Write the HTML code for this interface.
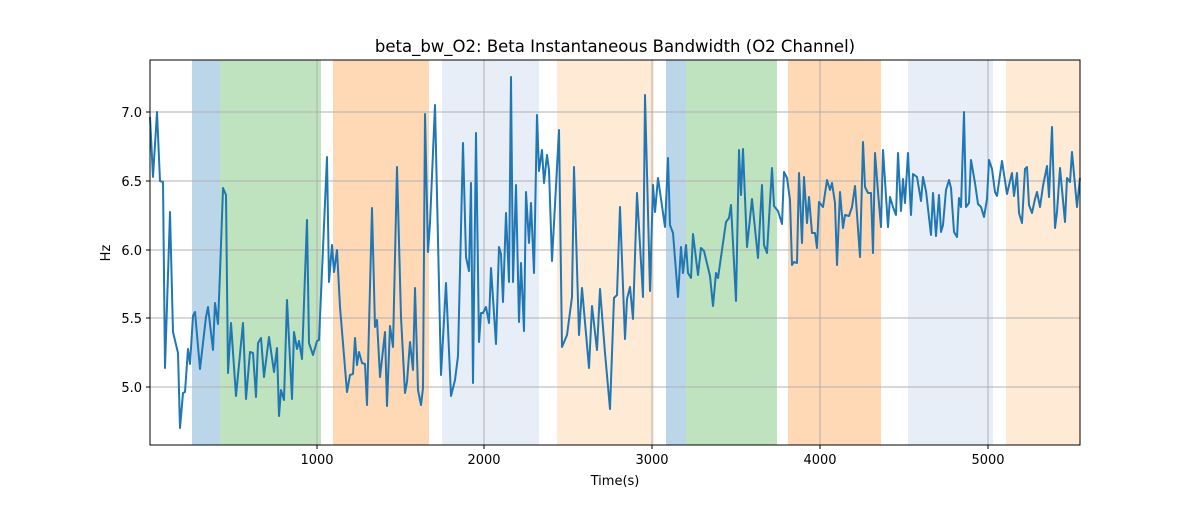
<!DOCTYPE html>
<html><head><meta charset="utf-8"><style>
body{margin:0;background:#fff;font-family:"Liberation Sans","DejaVu Sans",sans-serif}
</style></head><body>
<svg width="1200" height="500" xmlns="http://www.w3.org/2000/svg" font-family="DejaVu Sans, Liberation Sans, sans-serif">
<rect width="1200" height="500" fill="#fff"/>
<g>
<rect x="192" y="60" width="28" height="385" fill="#1f77b4" fill-opacity="0.3"/>
<rect x="220" y="60" width="101" height="385" fill="#2ca02c" fill-opacity="0.3"/>
<rect x="333" y="60" width="96" height="385" fill="#ff7f0e" fill-opacity="0.3"/>
<rect x="442" y="60" width="97" height="385" fill="#aec7e8" fill-opacity="0.3"/>
<rect x="557" y="60" width="97" height="385" fill="#ffbb78" fill-opacity="0.3"/>
<rect x="666" y="60" width="20" height="385" fill="#1f77b4" fill-opacity="0.3"/>
<rect x="686" y="60" width="91" height="385" fill="#2ca02c" fill-opacity="0.3"/>
<rect x="788" y="60" width="93" height="385" fill="#ff7f0e" fill-opacity="0.3"/>
<rect x="908" y="60" width="85" height="385" fill="#aec7e8" fill-opacity="0.3"/>
<rect x="1006" y="60" width="74" height="385" fill="#ffbb78" fill-opacity="0.3"/>
</g>
<g stroke="#b0b0b0" stroke-width="1">
<line x1="317" y1="60" x2="317" y2="445"/><line x1="484" y1="60" x2="484" y2="445"/>
<line x1="652" y1="60" x2="652" y2="445"/><line x1="820" y1="60" x2="820" y2="445"/>
<line x1="988" y1="60" x2="988" y2="445"/>
<line x1="150" y1="112" x2="1080" y2="112"/><line x1="150" y1="181" x2="1080" y2="181"/>
<line x1="150" y1="250" x2="1080" y2="250"/><line x1="150" y1="318" x2="1080" y2="318"/>
<line x1="150" y1="387" x2="1080" y2="387"/>
</g>
<polyline fill="none" stroke="#1f77b4" stroke-width="2" stroke-linejoin="round" points="150,117 153,177 157,112 160,181 163,182 165,368 170,212 173,332 178,353 180,428 183,393 185,392 188,349 190,364 193,316 195,312 200,369 206,317 208,307 213,350 215,303 218,324 220,273 223,188 226,195 228,373 231,323 236,396 243,323 246,399 250,352 253,353 256,397 258,343 261,338 264,377 269,337 274,372 277,348 279,416 281,390 284,400 287,300 292,399 294,332 297,349 299,341 302,359 307,220 309,343 313,355 317,341 319,340 327,157 329,282 332,245 334,272 337,250 340,307 347,392 350,375 353,374 355,338 357,365 359,352 362,363 365,364 367,405 372,208 375,327 377,320 380,377 385,332 387,406 390,326 393,347 397,167 401,317 405,393 407,382 410,342 413,370 415,288 418,390 421,405 423,388 425,114 428,252 430,223 435,105 441,375 446,283 451,396 455,380 458,356 463,143 466,257 469,271 471,183 473,383 476,133 479,342 481,313 483,313 486,307 489,323 491,268 496,344 499,247 501,254 503,302 506,213 509,282 511,77 513,282 516,185 519,322 521,263 524,331 526,192 529,243 531,203 534,273 537,115 539,171 542,150 544,183 547,155 549,170 552,261 559,130 562,347 567,335 572,297 574,167 579,335 582,288 589,368 592,306 597,350 600,289 605,353 610,409 614,298 617,295 620,207 625,339 627,299 630,287 633,319 637,193 643,297 645,95 650,291 653,185 655,212 658,178 665,227 668,158 670,225 673,233 678,297 681,247 683,273 686,245 688,273 691,278 693,234 698,275 701,248 704,251 710,276 713,306 716,273 718,278 726,222 729,218 731,205 736,301 739,150 741,195 743,149 747,247 752,199 758,258 762,185 764,245 767,253 772,168 774,206 778,211 782,224 784,172 787,178 790,200 792,265 794,262 797,263 799,173 802,243 804,177 807,223 809,197 812,233 815,233 817,248 819,202 823,207 827,180 830,190 832,183 835,203 837,265 840,192 843,228 845,215 849,216 852,207 855,186 860,257 863,142 865,187 868,193 871,193 873,253 875,153 878,192 881,227 883,150 888,227 890,197 893,207 896,215 898,153 901,211 903,179 905,203 908,153 911,215 913,174 917,177 921,201 923,177 926,191 931,235 933,193 936,236 939,195 941,232 943,225 946,190 949,180 951,188 954,232 957,237 959,198 961,207 964,112 966,207 969,203 971,160 975,183 978,204 981,207 984,217 987,199 989,160 992,169 995,192 997,196 1002,161 1007,194 1010,181 1012,173 1014,196 1017,173 1019,213 1022,223 1025,169 1027,167 1029,205 1032,213 1035,199 1037,192 1040,207 1043,186 1047,166 1049,197 1052,127 1055,228 1057,212 1060,168 1065,222 1067,178 1070,182 1072,152 1077,207 1080,178"/>
<rect x="150" y="60" width="930" height="385" fill="none" stroke="#000" stroke-width="1"/>
<g stroke="#000" stroke-width="1">
<line x1="317" y1="445" x2="317" y2="449"/><line x1="484" y1="445" x2="484" y2="449"/>
<line x1="652" y1="445" x2="652" y2="449"/><line x1="820" y1="445" x2="820" y2="449"/>
<line x1="988" y1="445" x2="988" y2="449"/>
<line x1="146" y1="112" x2="150" y2="112"/><line x1="146" y1="181" x2="150" y2="181"/>
<line x1="146" y1="250" x2="150" y2="250"/><line x1="146" y1="318" x2="150" y2="318"/>
<line x1="146" y1="387" x2="150" y2="387"/>
</g>
<g font-size="13" fill="#000" text-anchor="middle">
<text x="317" y="464">1000</text><text x="484" y="464">2000</text><text x="652" y="464">3000</text>
<text x="820" y="464">4000</text><text x="988" y="464">5000</text>
</g>
<g font-size="13" fill="#000" text-anchor="end">
<text x="142" y="117">7.0</text><text x="142" y="186">6.5</text><text x="142" y="255">6.0</text>
<text x="142" y="323">5.5</text><text x="142" y="392">5.0</text>
</g>
<text x="615" y="485" font-size="13" text-anchor="middle">Time(s)</text>
<text x="110" y="253" font-size="13" text-anchor="middle" transform="rotate(-90 110 253)">Hz</text>
<text x="615" y="52" font-size="16.5" text-anchor="middle">beta_bw_O2: Beta Instantaneous Bandwidth (O2 Channel)</text>
</svg>
</body></html>
